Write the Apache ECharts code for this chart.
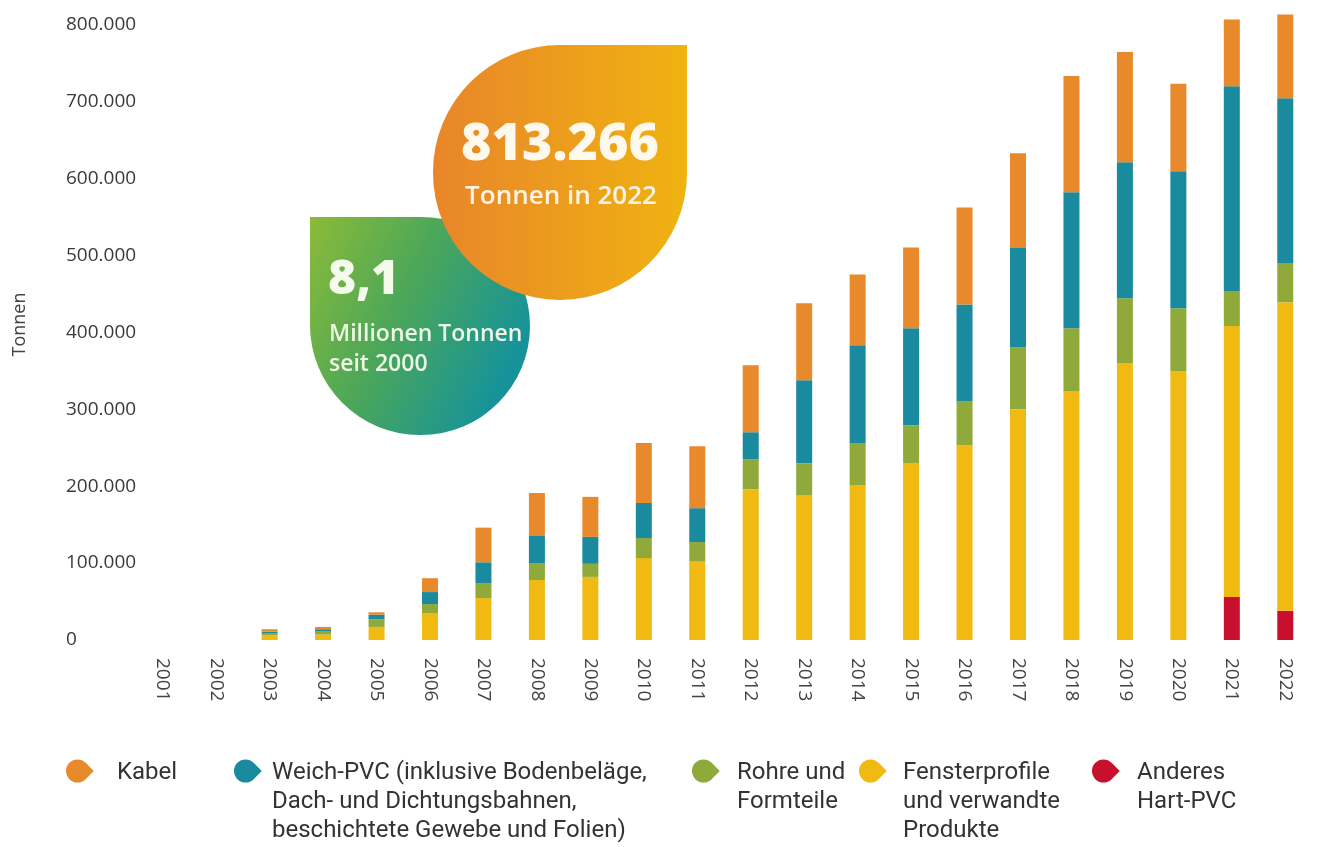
<!DOCTYPE html>
<html><head><meta charset="utf-8">
<script src="https://cdn.jsdelivr.net/npm/echarts@6/dist/echarts.min.js"></script>
<style>html,body{margin:0;padding:0;background:#fff}#c{width:1321px;height:847px}</style>
</head><body><div id="c"></div>
<script>
const years = ['2001','2002','2003','2004','2005','2006','2007','2008','2009','2010','2011','2012','2013','2014','2015','2016','2017','2018','2019','2020','2021','2022'];
const anderes = [0,0,0,0,0,0,0,0,0,0,0,0,0,0,0,0,0,0,0,0,56000,38000];
const fenster = [0,0,6000,7000,17000,35000,54500,78000,82000,106500,102600,196000,188000,201000,230000,253000,300000,323000,360000,349000,352000,401000];
const rohre   = [0,0,3000,4000,10000,11700,19500,22000,17000,26000,24700,39000,41600,55000,49000,57000,80500,82000,84000,82000,45500,51000];
const weich   = [0,0,2000,3000,6000,15600,27000,36000,35000,45500,44000,35000,108000,127000,126000,126000,129000,177000,177000,178000,266000,214000];
const kabel   = [0,0,3000,3000,3000,18000,45000,55000,52000,78000,80500,87000,100000,92000,105000,126000,123000,151000,143000,114000,87000,109000];

const seriesNames = ['Kabel','Weich-PVC','Rohre und Formteile','Fensterprofile','Anderes Hart-PVC'];
const legendTexts = [
  'Kabel',
  'Weich-PVC (inklusive Bodenbeläge,\nDach- und Dichtungsbahnen,\nbeschichtete Gewebe und Folien)',
  'Rohre und\nFormteile',
  'Fensterprofile\nund verwandte\nProdukte',
  'Anderes\nHart-PVC'
];
const colors = ['#E8892B','#1A8A9E','#8FA93A','#F1BA12','#C8102E'];
const legendIconX = [66, 234, 692, 859, 1092];
const legendTextX = [117, 272, 737, 903, 1137];

const callout1 = ['813.266', 'Tonnen in 2022'];
const callout2 = ['8,1', 'Millionen Tonnen', 'seit 2000'];

function fmt(v){
  return String(v).replace(/\B(?=(\d{3})+(?!\d))/g, '.');
}

const legendGraphics = [];
seriesNames.forEach((n, i) => {
  legendGraphics.push({ type: 'rect', z: 5, x: legendIconX[i] + 11.5, y: 771, rotation: -Math.PI / 4,
    shape: { x: -11.5, y: -11.5, width: 23, height: 23, r: [11.5, 0, 11.5, 11.5] },
    style: { fill: colors[i] } });
  legendGraphics.push({ type: 'text', z: 5, x: legendTextX[i], y: 758,
    style: { text: legendTexts[i], fill: '#333', fontFamily: 'Roboto', fontSize: 24,
      lineHeight: 29, align: 'left', verticalAlign: 'top' } });
});

const dataBySeries = [kabel, weich, rohre, fenster, anderes];
const order = [4, 3, 2, 1, 0];
const series = order.map(i => ({
  name: seriesNames[i], type: 'bar', stack: 'total', barWidth: 16,
  itemStyle: { color: colors[i] },
  data: dataBySeries[i]
}));

const chart = echarts.init(document.getElementById('c'), null, { renderer: 'canvas' });
chart.setOption({
  animation: false,
  backgroundColor: '#fff',
  color: colors,
  grid: { left: 136, right: 9, top: 9, bottom: 207, containLabel: false, outerBoundsMode: 'none' },
  xAxis: {
    type: 'category', data: years,
    axisLine: { show: false }, axisTick: { show: false },
    axisLabel: { rotate: -90, margin: 18, fontSize: 19, color: '#444', fontFamily: 'Open Sans', interval: 0 }
  },
  yAxis: {
    type: 'value', min: 0, max: 820000, interval: 100000,
    name: 'Tonnen', nameLocation: 'middle', nameGap: 107, nameRotate: 90,
    nameTextStyle: { fontSize: 18, color: '#444', fontFamily: 'Open Sans' },
    splitLine: { show: false }, axisLine: { show: false }, axisTick: { show: false },
    axisLabel: { align: 'left', margin: 70, fontSize: 19, color: '#3a3a3a', fontFamily: 'Open Sans',
      showMaxLabel: false,
      formatter: v => (v % 100000 === 0 ? fmt(v) : '') }
  },
  graphic: [
    { type: 'rect', z: 1, shape: { x: 310, y: 217, width: 220, height: 218, r: [0, 110, 110, 110] },
      style: { fill: { type: 'linear', x: 0, y: 0, x2: 1, y2: 0.5,
        colorStops: [{ offset: 0, color: '#8CBB38' }, { offset: 0.5, color: '#4AA65A' }, { offset: 1, color: '#16939A' }] } } },
    { type: 'rect', z: 2, shape: { x: 433, y: 45, width: 254, height: 255, r: [127, 0, 127, 127] },
      style: { fill: { type: 'linear', x: 0, y: 0, x2: 1, y2: 0,
        colorStops: [{ offset: 0, color: '#E8852A' }, { offset: 1, color: '#F0B311' }] } } },
    { type: 'text', z: 3, x: 560, y: 145, style: { text: callout1[0], fill: '#FFF8EC',
      font: '800 52px "Open Sans"', align: 'center', verticalAlign: 'middle' } },
    { type: 'text', z: 3, x: 561, y: 197, style: { text: callout1[1], fill: '#FFF4E4',
      font: '600 26px "Open Sans"', align: 'center', verticalAlign: 'middle' } },
    { type: 'text', z: 3, x: 328, y: 280, style: { text: callout2[0], fill: '#F4FAEC',
      font: '800 48px "Open Sans"', align: 'left', verticalAlign: 'middle' } },
    { type: 'text', z: 3, x: 329, y: 334, style: { text: callout2[1], fill: '#EEF7E4',
      font: '600 23px "Open Sans"', align: 'left', verticalAlign: 'middle' } },
    { type: 'text', z: 3, x: 329, y: 364, style: { text: callout2[2], fill: '#EEF7E4',
      font: '600 23px "Open Sans"', align: 'left', verticalAlign: 'middle' } }
  ].concat(legendGraphics),
  series: series
});
</script>
</body></html>
